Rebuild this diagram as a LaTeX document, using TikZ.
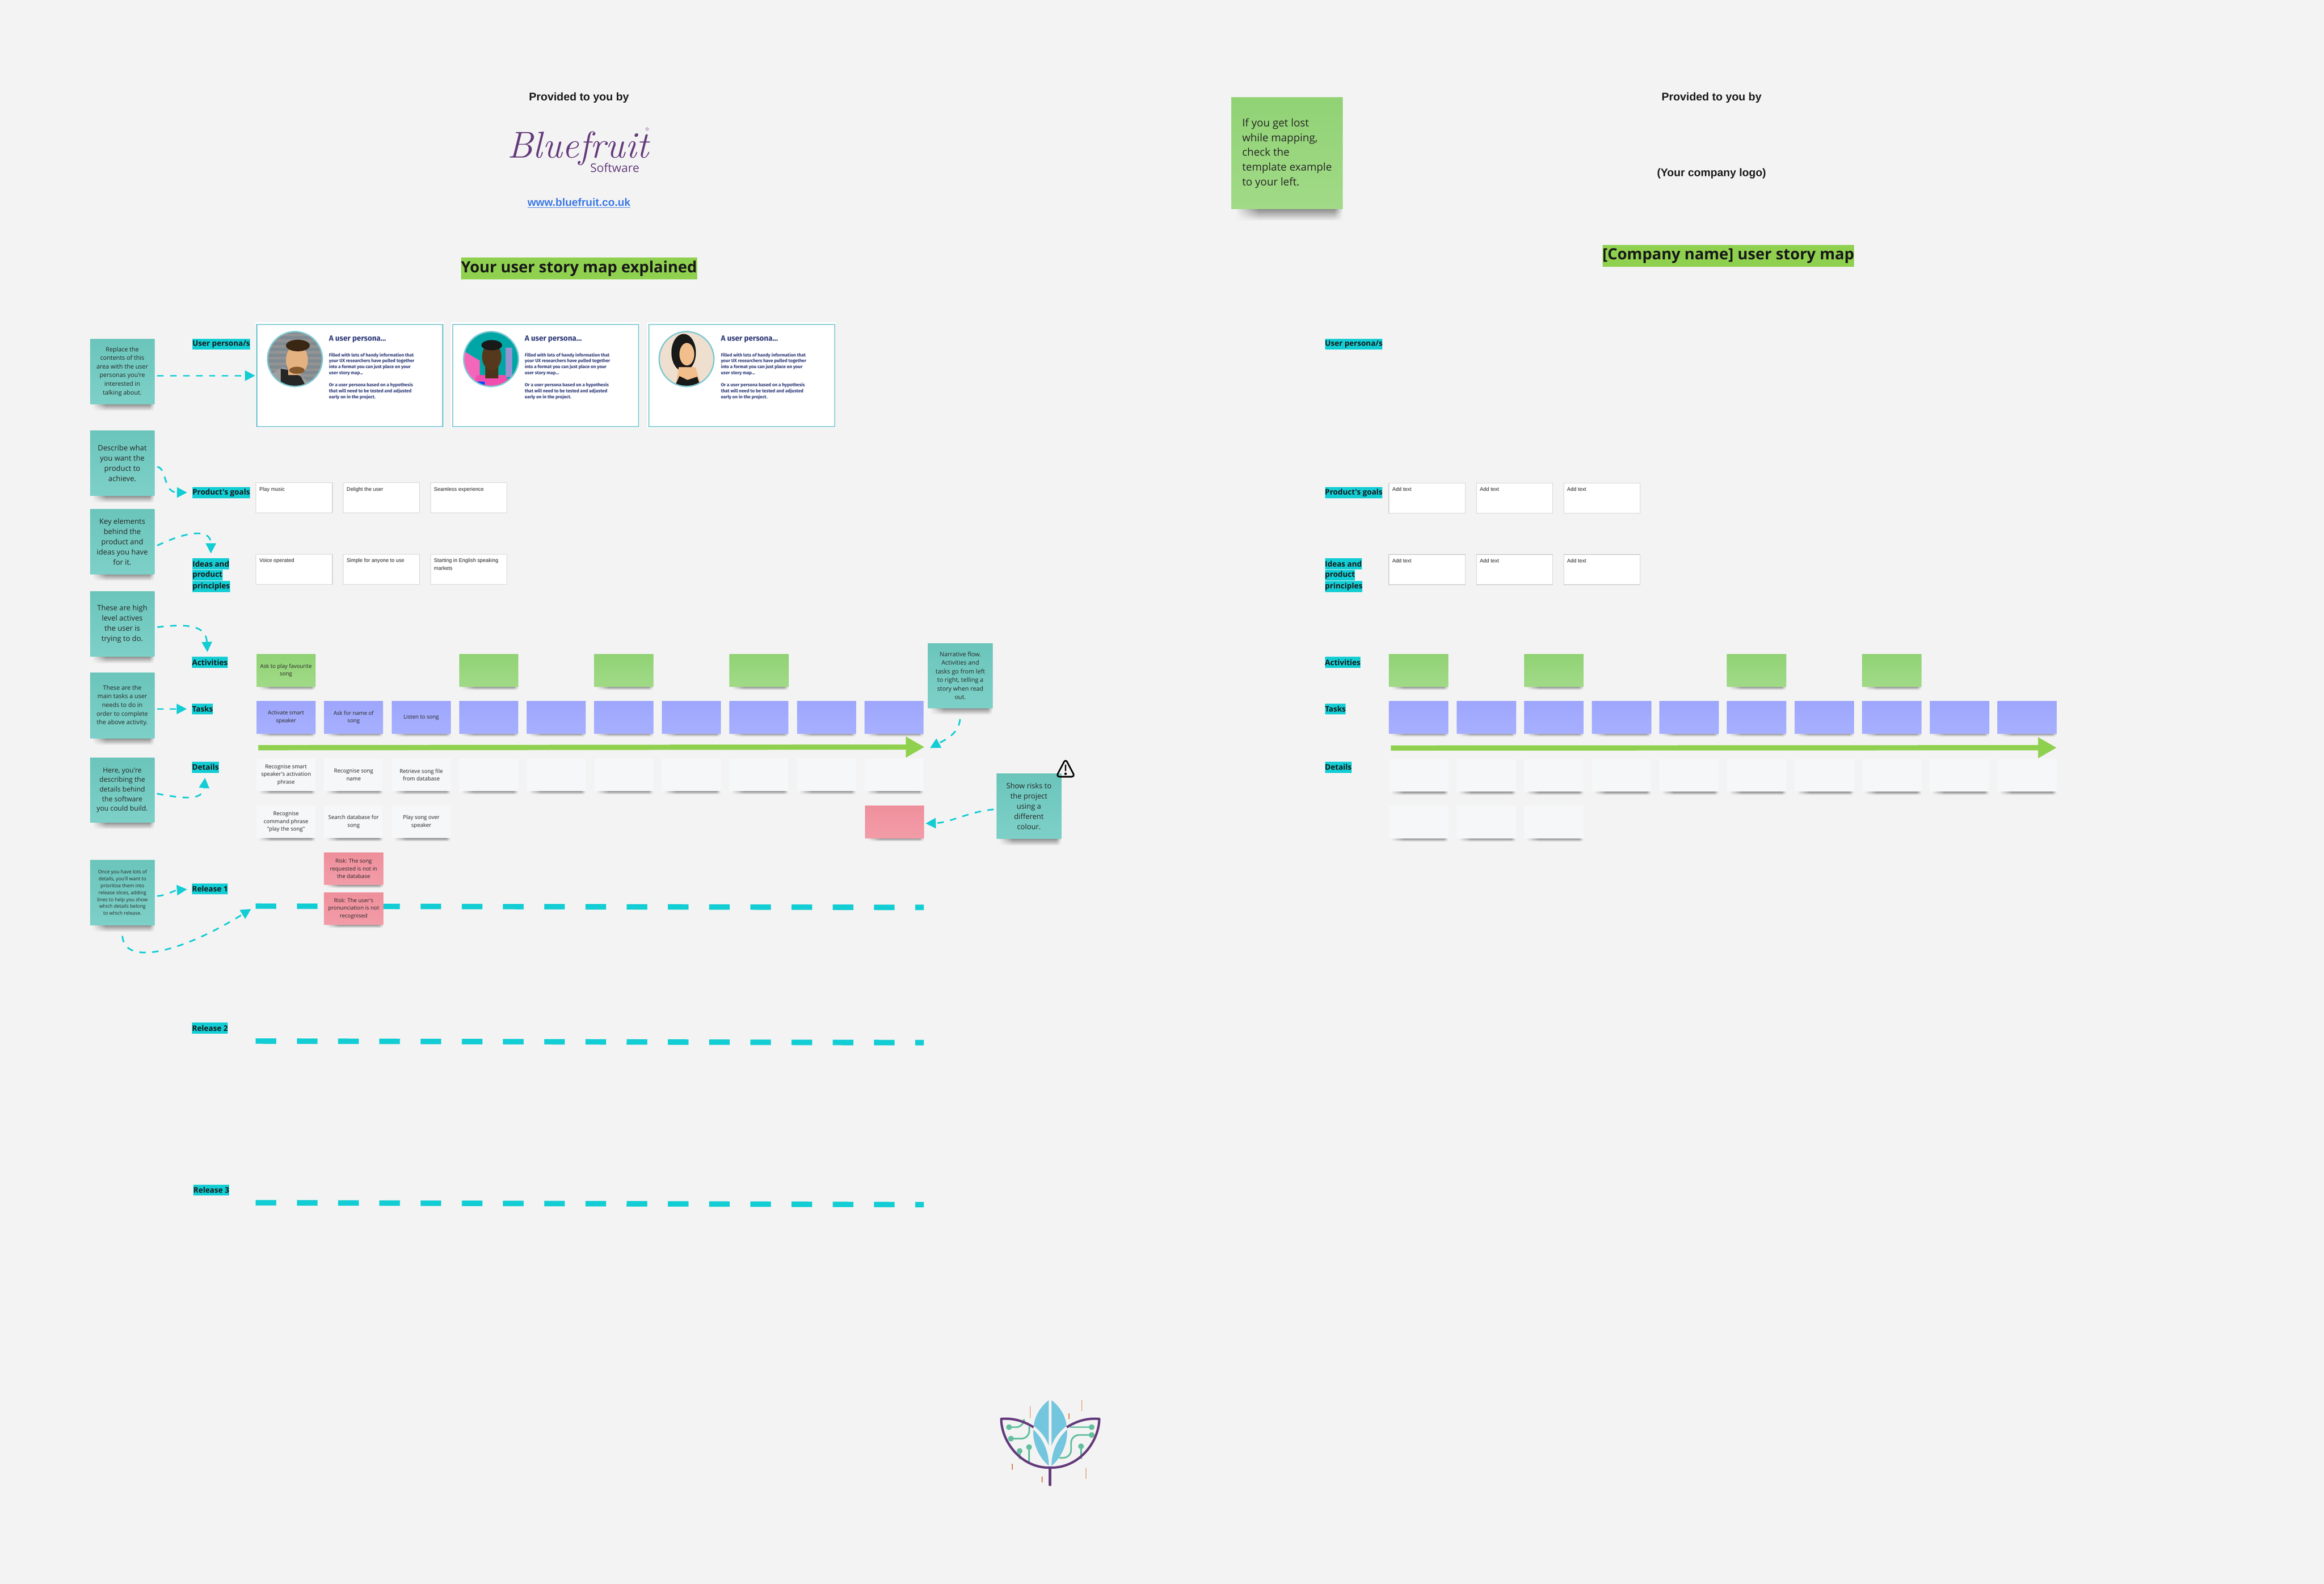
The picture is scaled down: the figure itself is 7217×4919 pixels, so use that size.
\documentclass[tikz,border=0pt]{standalone}
\usepackage{fontspec}
\usepackage{tikz}
\usetikzlibrary{calc,arrows.meta,positioning,fadings}
\newfontfamily\opensans{Open Sans}
\newfontfamily\arialish{Liberation Sans}
\newfontfamily\firasans{Fira Sans}
\definecolor{pagegray}{HTML}{F3F3F3}
\definecolor{labelteal}{HTML}{12CDD4}
\definecolor{titlegreen}{HTML}{8FD14F}
\definecolor{tealtop}{HTML}{6BC5BB}
\definecolor{tealbot}{HTML}{7DD0C7}
\definecolor{greentop}{HTML}{91D275}
\definecolor{greenbot}{HTML}{A1DA87}
\definecolor{bluetop}{HTML}{9DA6FB}
\definecolor{bluebot}{HTML}{A7B0FF}
\definecolor{redtop}{HTML}{EF909C}
\definecolor{redbot}{HTML}{F29CA8}
\definecolor{whitetop}{HTML}{F6F7F8}
\definecolor{shadowdark}{HTML}{8A8A8A}
\definecolor{shadowmid}{HTML}{E2E2E2}
\definecolor{cardteal}{HTML}{7FC8D2}
\definecolor{cardink}{HTML}{2E3A78}
\definecolor{linkblue}{HTML}{3B78E7}
\definecolor{logopurple}{HTML}{653B7C}
\definecolor{logoblue}{HTML}{74C6DE}
\definecolor{logogreen}{HTML}{64BF9F}
\definecolor{logoorange}{HTML}{D9703A}
\pgfdeclarehorizontalshading{edgeshade}{100bp}{color(0bp)=(black);color(25bp)=(black);color(36bp)=(white);color(71bp)=(white);color(75bp)=(black);color(100bp)=(black)}
\pgfdeclarefading{edgefade}{\pgfuseshading{edgeshade}}
\newcommand{\stickynote}[7]{%
  \shade[path fading=edgefade,fit fading=true,top color=shadowdark,middle color=shadowmid,bottom color=pagegray] ({#2+#4*0.04},{#3+#5}) rectangle ({#2+#4*1.0},{#3+#5*1.11});
  \node[#6,anchor=north west,minimum width={#4*0.01cm},minimum height={#5*0.01cm}] (#1) at (#2,#3) {#7};
}
\begin{document}
\begin{tikzpicture}[x=0.01cm,y=-0.01cm]
	\tikzstyle{notebase}=[inner sep=0pt,align=center,text=black!85]
	\tikzstyle{tealnote}=[notebase,top color=tealtop,bottom color=tealbot]
	\tikzstyle{greennote}=[notebase,top color=greentop,bottom color=greenbot]
	\tikzstyle{bluenote}=[notebase,top color=bluetop,bottom color=bluebot]
	\tikzstyle{rednote}=[notebase,top color=redtop,bottom color=redbot]
	\tikzstyle{whitenote}=[notebase,fill=whitetop]
	\tikzstyle{tinytext}=[font=\opensans\fontsize{4.3}{6.1}\selectfont]
	\tikzstyle{gridtext}=[font=\opensans\fontsize{4.8}{6.8}\selectfont]
	\tikzstyle{smalltext}=[font=\opensans\fontsize{5.4}{7.6}\selectfont]
	\tikzstyle{detailtext}=[font=\opensans\fontsize{6.1}{8.5}\selectfont]
	\tikzstyle{midtext}=[font=\opensans\fontsize{6.5}{9.1}\selectfont]
	\tikzstyle{bigtext}=[font=\opensans\fontsize{9.4}{13.1}\selectfont]
	\tikzstyle{rowlabel}=[fill=labelteal,font=\opensans\bfseries\fontsize{6.75}{8}\selectfont,text=black!90,inner sep=0pt,minimum height=0.34cm,anchor=north west]
	\tikzstyle{titlebar}=[fill=titlegreen,font=\opensans\bfseries\fontsize{13.7}{15}\selectfont,text=black!90,inner sep=0pt,minimum height=0.68cm]
	\tikzstyle{arialhead}=[font=\arialish\bfseries\fontsize{9.8}{12}\selectfont,text=black!90,inner sep=0pt]
	\tikzstyle{addbox}=[draw=black!18,fill=white,line width=0.5pt,anchor=north west,minimum width=2.37cm,minimum height=0.94cm,inner sep=0pt]
	\tikzstyle{boxtext}=[font=\arialish\fontsize{4.6}{6.8}\selectfont,text=black!85,inner sep=0pt,anchor=north west,align=left]
	\tikzstyle{cardbox}=[draw=cardteal,fill=white,line width=0.85pt,anchor=north west,minimum width=5.77cm,minimum height=3.18cm,inner sep=0pt]
	\tikzstyle{cardhead}=[font=\firasans\bfseries\fontsize{6.7}{7.5}\selectfont,text=cardink,inner sep=0pt,anchor=north west]
	\tikzstyle{cardbody}=[font=\firasans\bfseries\fontsize{4}{5.3}\selectfont,text=cardink,inner sep=0pt,anchor=north west,align=left]
	\tikzstyle{flow}=[draw=labelteal,line width=1.4pt,dash pattern=on 5.7pt off 5.7pt,-{Triangle[length=9pt,width=9pt]}]
	\tikzstyle{releaseline}=[draw=labelteal,line width=4.8pt,dash pattern=on 18.2pt off 18.2pt]
	\tikzstyle{narrative}=[draw=titlegreen,line width=4.6pt,-{Triangle[length=16.5pt,width=17.4pt]}]
	\tikzstyle{avatarring}=[draw=cardteal,line width=1.2pt]
	\tikzstyle{logoline}=[draw=logopurple,line width=2.1pt,line join=round]
	\tikzstyle{circuit}=[draw=logogreen,line width=1.5pt,rounded corners=7pt]

	\fill[pagegray] (0,0) rectangle (7217,4919);
	\useasboundingbox (0,0) rectangle (7217,4919);

	\node[arialhead] (providedLeft) at (1798,304) {Provided to you by};
	\node[font=\itshape\fontsize{33}{36}\selectfont,text=logopurple,inner sep=0pt,anchor=base west] (logoScript) at (1575,490) {Bluefruit};
	\node[font=\fontsize{4}{4}\selectfont,text=logopurple,inner sep=0pt] (logoMark) at (2010,401) {®};
	\node[font=\opensans\fontsize{10.5}{12}\selectfont,text=logopurple,inner sep=0pt] (logoSoftware) at (1909,521) {Software};
	\node[font=\arialish\bfseries\fontsize{9.6}{12}\selectfont,text=linkblue,inner sep=0pt] (siteLink) at (1798,631) {\underline{www.bluefruit.co.uk}};
	\node[titlebar] (titleLeft) at (1798,834) {Your user story map explained};

	\stickynote{noteLost}{3823}{302}{346}{346}{greennote,bigtext}{\begin{tabular}{@{}l@{}}If you get lost\\while mapping,\\check the\\template example\\to your left.\end{tabular}}
	\node[arialhead] (providedRight) at (5315,304) {Provided to you by};
	\node[arialhead,font=\arialish\bfseries\fontsize{9.7}{12}\selectfont] (companyLogo) at (5315,539) {(Your company logo)};
	\node[titlebar] (titleRight) at (5367,795) {[Company name] user story map};

	\foreach \cardname/\cardx in {cardOne/796,cardTwo/1404,cardThree/2013}{
		\fill[white!97!pagegray] ({\cardx-4},1000) rectangle ({\cardx+582},1330);
		\node[cardbox] (\cardname) at (\cardx,1006) {};
		\node[cardhead] (\cardname Head) at ({\cardx+225},1041) {A user persona...};
		\node[cardbody] (\cardname Body) at ({\cardx+225},1095) {Filled with lots of handy information that\\your UX researchers have pulled together\\into a format you can just place on your\\user story map...\\[5.3pt]Or a user persona based on a hypothesis\\that will need to be tested and adjusted\\early on in the project.};
	}
	\begin{scope}
		\clip (916,1115) circle (85);
		\fill[black!45!cyan!25!gray] (830,1030) rectangle (1002,1200);
		\foreach \s in {0,...,9} \fill[black!20!gray!70] (830,{1036+\s*18}) rectangle (1002,{1044+\s*18});
		\fill[black!25!gray!60] (835,1200) -- (845,1160) -- (878,1140) -- (930,1165) -- (975,1200) -- cycle;
		\fill[black!85] (872,1200) -- (872,1145) -- (900,1150) -- (935,1170) -- (950,1200) -- cycle;
		\fill[brown!70!orange!60!white] (895,1125) rectangle (930,1165);
		\fill[brown!70!orange!60!white] (922,1118) ellipse (34 and 46);
		\fill[black!70!brown] (925,1073) ellipse (37 and 18);
		\fill[black!30!brown] (922,1150) ellipse (24 and 11);
	\end{scope}
	\draw[avatarring] (916,1115) circle (85);
	\begin{scope}
		\clip (1525,1115) circle (85);
		\fill[teal!70!cyan] (1440,1030) rectangle (1610,1200);
		\fill[magenta!60!white] (1440,1090) -- (1490,1120) -- (1490,1200) -- (1440,1200) -- cycle;
		\fill[blue!40!gray!60] (1570,1080) rectangle (1590,1170);
		\fill[magenta!70!white] (1470,1200) -- (1480,1165) -- (1570,1165) -- (1585,1200) -- cycle;
		\fill[blue!70!cyan] (1480,1185) rectangle (1505,1200);
		\fill[black!60!brown] (1507,1130) rectangle (1547,1175);
		\fill[black!55!brown] (1527,1108) ellipse (30 and 42);
		\fill[black!90] (1527,1072) ellipse (32 and 16);
	\end{scope}
	\draw[avatarring] (1525,1115) circle (85);
	\begin{scope}
		\clip (2132,1115) circle (85);
		\fill[brown!25!white] (2047,1030) rectangle (2217,1200);
		\fill[black!90] (2123,1095) ellipse (38 and 58);
		\fill[brown!40!orange!50!white] (2098,1200) -- (2108,1140) -- (2160,1140) -- (2178,1200) -- cycle;
		\fill[black!90] (2095,1200) -- (2110,1168) -- (2135,1180) -- (2165,1170) -- (2175,1200) -- cycle;
		\fill[brown!40!orange!50!white] (2133,1100) ellipse (23 and 35);
	\end{scope}
	\draw[avatarring] (2132,1115) circle (85);

	\node[rowlabel] (labelUser) at (597,1051) {User persona/s};
	\node[rowlabel] (labelGoals) at (597,1512) {Product's goals};
	\node[rowlabel] (labelIdeas) at (597,1733) {Ideas and};
	\node[rowlabel,below=0pt of labelIdeas.south west,anchor=north west] (labelIdeasB) {product};
	\node[rowlabel,below=0pt of labelIdeasB.south west,anchor=north west] (labelIdeasC) {principles};
	\node[rowlabel] (labelActivities) at (596,2039) {Activities};
	\node[rowlabel] (labelTasks) at (596,2184) {Tasks};
	\node[rowlabel] (labelDetails) at (596,2365) {Details};
	\node[rowlabel] (labelReleaseOne) at (596,2743) {Release 1};
	\node[rowlabel] (labelReleaseTwo) at (596,3175) {Release 2};
	\node[rowlabel] (labelReleaseThree) at (600,3678) {Release 3};

	\node[rowlabel] (rightUser) at (4114,1051) {User persona/s};
	\node[rowlabel] (rightGoals) at (4114,1512) {Product's goals};
	\node[rowlabel] (rightIdeas) at (4114,1733) {Ideas and};
	\node[rowlabel,below=0pt of rightIdeas.south west,anchor=north west] (rightIdeasB) {product};
	\node[rowlabel,below=0pt of rightIdeasB.south west,anchor=north west] (rightIdeasC) {principles};
	\node[rowlabel] (rightActivities) at (4114,2039) {Activities};
	\node[rowlabel] (rightTasks) at (4114,2184) {Tasks};
	\node[rowlabel] (rightDetails) at (4114,2365) {Details};

	\foreach \boxname/\boxx/\boxy/\boxtxt in {goalA/794/1498/Play music,goalB/1065/1498/Delight the user,goalC/1336/1498/Seamless experience,ideaA/794/1720/Voice operated,ideaB/1065/1720/Simple for anyone to use,ideaC/1336/1720/{Starting in English speaking\\markets},rgoalA/4312/1499/Add text,rgoalB/4584/1499/Add text,rgoalC/4855/1499/Add text,rideaA/4312/1721/Add text,rideaB/4584/1721/Add text,rideaC/4855/1721/Add text}{
		\node[addbox] (\boxname) at (\boxx,\boxy) {};
		\node[boxtext] (\boxname Text) at ({\boxx+11},{\boxy+14}) {\boxtxt};
	}

	\coordinate (relOneStart) at (794,2814);
	\coordinate (relOneEnd) at (2869,2818);
	\coordinate (relTwoStart) at (794,3233);
	\coordinate (relTwoEnd) at (2869,3238);
	\coordinate (relThreeStart) at (794,3735);
	\coordinate (relThreeEnd) at (2869,3741);
	\draw[releaseline] (relOneStart) -- (relOneEnd);
	\draw[releaseline] (relTwoStart) -- (relTwoEnd);
	\draw[releaseline] (relThreeStart) -- (relThreeEnd);

	\stickynote{noteUser}{279}{1052}{200}{202}{tealnote,smalltext}{Replace the\\contents of this\\area with the user\\personas you're\\interested in\\talking about.}
	\stickynote{noteGoals}{279}{1337}{200}{202}{tealnote,midtext}{Describe what\\you want the\\product to\\achieve.}
	\stickynote{noteIdeas}{279}{1581}{200}{201}{tealnote,midtext}{Key elements\\behind the\\product and\\ideas you have\\for it.}
	\stickynote{noteActivities}{279}{1836}{200}{202}{tealnote,midtext}{These are high\\level actives\\the user is\\trying to do.}
	\stickynote{noteTasks}{279}{2089}{200}{203}{tealnote,smalltext}{These are the\\main tasks a user\\needs to do in\\order to complete\\the above activity.}
	\stickynote{noteDetails}{279}{2353}{200}{200}{tealnote,detailtext}{Here, you're\\describing the\\details behind\\the software\\you could build.}
	\stickynote{noteRelease}{279}{2670}{201}{202}{tealnote,tinytext}{Once you have lots of\\details, you'll want to\\prioritise them into\\release slices, adding\\lines to help you show\\which details belong\\to which release.}
	\stickynote{noteNarrative}{2881}{1997}{201}{201}{tealnote,smalltext}{Narrative flow.\\Activities and\\tasks go from left\\to right, telling a\\story when read\\out.}
	\stickynote{noteRisks}{3094}{2402}{201}{202}{tealnote,midtext}{Show risks to\\the project\\using a\\different\\colour.}

	\stickynote{actA}{796}{2031}{183}{101}{greennote,gridtext}{Ask to play favourite\\song}
	\stickynote{actB}{1426}{2031}{183}{101}{greennote}{}
	\stickynote{actC}{1845}{2031}{183}{101}{greennote}{}
	\stickynote{actD}{2265}{2031}{183}{101}{greennote}{}
	\stickynote{taskA}{796}{2177}{183}{100}{bluenote,gridtext}{Activate smart\\speaker}
	\stickynote{taskB}{1006}{2177}{183}{100}{bluenote,gridtext}{Ask for name of\\song}
	\stickynote{taskC}{1216}{2177}{183}{100}{bluenote,gridtext}{Listen to song}
	\stickynote{detailA}{796}{2355}{183}{101}{whitenote,gridtext}{Recognise smart\\speaker's activation\\phrase}
	\stickynote{detailB}{1006}{2355}{183}{101}{whitenote,gridtext}{Recognise song\\name}
	\stickynote{detailC}{1216}{2355}{183}{101}{whitenote,gridtext}{Retrieve song file\\from database}
	\stickynote{subA}{796}{2501}{183}{101}{whitenote,gridtext}{Recognise\\command phrase\\"play the song"}
	\stickynote{subB}{1006}{2501}{183}{101}{whitenote,gridtext}{Search database for\\song}
	\stickynote{subC}{1216}{2501}{183}{101}{whitenote,gridtext}{Play song over\\speaker}
	\stickynote{riskA}{1005}{2647}{185}{100}{rednote,gridtext}{Risk: The song\\requested is not in\\the database}
	\stickynote{riskB}{1005}{2771}{185}{100}{rednote,gridtext}{Risk: The user's\\pronunciation is not\\recognised}
	\stickynote{riskC}{2686}{2501}{183}{101}{rednote}{}
	\foreach \i in {3,...,9}{
		\pgfmathsetmacro\colx{796+209.8*\i}
		\stickynote{task\i}{\colx}{2177}{183}{100}{bluenote}{}
		\stickynote{detail\i}{\colx}{2355}{183}{101}{whitenote}{}
	}
	\foreach \i in {0,2,5,7}{
		\pgfmathsetmacro\colx{4313+209.9*\i}
		\stickynote{ract\i}{\colx}{2031}{184}{101}{greennote}{}
	}
	\foreach \i in {0,...,9}{
		\pgfmathsetmacro\colx{4313+209.9*\i}
		\stickynote{rtask\i}{\colx}{2177}{184}{100}{bluenote}{}
		\stickynote{rdetail\i}{\colx}{2357}{184}{101}{whitenote}{}
	}
	\foreach \i in {0,1,2}{
		\pgfmathsetmacro\colx{4313+209.9*\i}
		\stickynote{rsub\i}{\colx}{2502}{184}{101}{whitenote}{}
	}

	\coordinate (flowStart) at (802,2322);
	\coordinate (flowTip) at (2871,2320);
	\draw[narrative] (flowStart) -- (flowTip);
	\coordinate (rightFlowStart) at (4319,2323);
	\coordinate (rightFlowTip) at (6387,2322);
	\draw[narrative] (rightFlowStart) -- (rightFlowTip);

	\draw[flow,shorten <=2.3pt,shorten >=1pt] (noteUser.east |- cardOne.west) -- (cardOne.west);
	\draw[flow,shorten >=4.5pt] ($(noteGoals.east)+(8,11)$) .. controls (520,1455) and (505,1529) .. (labelGoals.west);
	\draw[flow,shorten >=4pt] ($(noteIdeas.east)+(8,12)$) .. controls (580,1650) and (655,1640) .. (labelIdeas.north);
	\draw[flow,shorten >=4pt] ($(noteActivities.east)+(8,10)$) .. controls (590,1935) and (640,1945) .. ($(labelActivities.north)+(-7,0)$);
	\draw[flow,shorten <=2pt,shorten >=4.5pt] (noteTasks.east |- labelTasks.west) -- (labelTasks.west);
	\draw[flow,shorten >=4.3pt] ($(noteDetails.east)+(7,11)$) .. controls (560,2478) and (630,2490) .. (labelDetails.south);
	\draw[flow,shorten >=4.3pt] ($(noteRelease.east)+(7,11)$) .. controls (520,2780) and (540,2765) .. (labelReleaseOne.west);
	\draw[flow,shorten >=4.8pt] ($(noteRelease.south)+(0,33)$) .. controls (385,3000) and (560,2960) .. (relOneStart);
	\draw[flow] ($(noteNarrative.south)+(-1,34)$) .. controls (2978,2280) and (2930,2300) .. ($(flowTip)+(17,3)$);
	\draw[flow] ($(noteRisks.west)+(-8,10)$) .. controls (3010,2520) and (2950,2555) .. ($(riskC.east)+(4,5)$);

	\draw[line width=1.4pt,line join=round,rounded corners=3pt,fill=none] (3309,2357) -- (3338,2412) -- (3280,2412) -- cycle;
	\draw[line width=1.4pt] (3309,2374) -- (3309,2394);
	\fill (3309,2403) circle (4);

	\begin{scope}[shift={(3000,4250)},x=0.00333cm,y=-0.00333cm]
		\draw[circuit] (401,547) -- (540,547) -- (540,515);
		\draw[circuit] (419,654) -- (590,654) -- (590,540);
		\draw[circuit] (500,769) -- (500,845);
		\draw[circuit] (588,733) -- (588,890);
		\draw[circuit] (1172,547) -- (970,547);
		\draw[circuit] (1172,620) -- (980,620) -- (980,833) -- (870,833);
		\draw[circuit] (1073,726) -- (1073,845);
		\foreach \cx/\cy in {401/547,419/654,500/769,588/733,1172/547,1172/620,1073/726}
			\fill[logogreen] (\cx,\cy) circle (26);
		\fill[logoblue] (772,295) .. controls (700,350) and (640,440) .. (632,535) .. controls (690,580) and (750,650) .. (772,722) -- cycle;
		\fill[logoblue] (798,295) .. controls (870,350) and (930,440) .. (938,535) .. controls (880,580) and (820,650) .. (798,722) -- cycle;
		\fill[logoblue] (627,570) .. controls (620,700) and (680,830) .. (772,908) .. controls (775,800) and (730,660) .. (627,570) -- cycle;
		\fill[logoblue] (943,570) .. controls (950,700) and (890,830) .. (798,908) .. controls (795,800) and (840,660) .. (943,570) -- cycle;
		\draw[logoline] (630,548) .. controls (540,490) and (440,460) .. (328,470) .. controls (330,680) and (510,930) .. (785,925) .. controls (1060,930) and (1240,680) .. (1243,470) .. controls (1130,460) and (1030,490) .. (940,548);
		\draw[logoline,line width=2.5pt,line cap=round] (785,925) -- (785,1085);
		\foreach \tx/\tya/\tyb in {598/355/460,1082/293/395,1120/927/1030}
			\draw[logoorange,line width=0.4pt] (\tx,\tya) -- (\tx,\tyb);
		\foreach \tx/\tya/\tyb in {960/422/467,430/893/940,711/1012/1057}{
			\draw[logoorange,line width=0.8pt] (\tx,\tya) -- (\tx,\tyb);
			\fill[logoorange] (\tx,\tya) circle (6);
			\fill[logoorange] (\tx,\tyb) circle (6);
		}
	\end{scope}
\end{tikzpicture}
\end{document}
